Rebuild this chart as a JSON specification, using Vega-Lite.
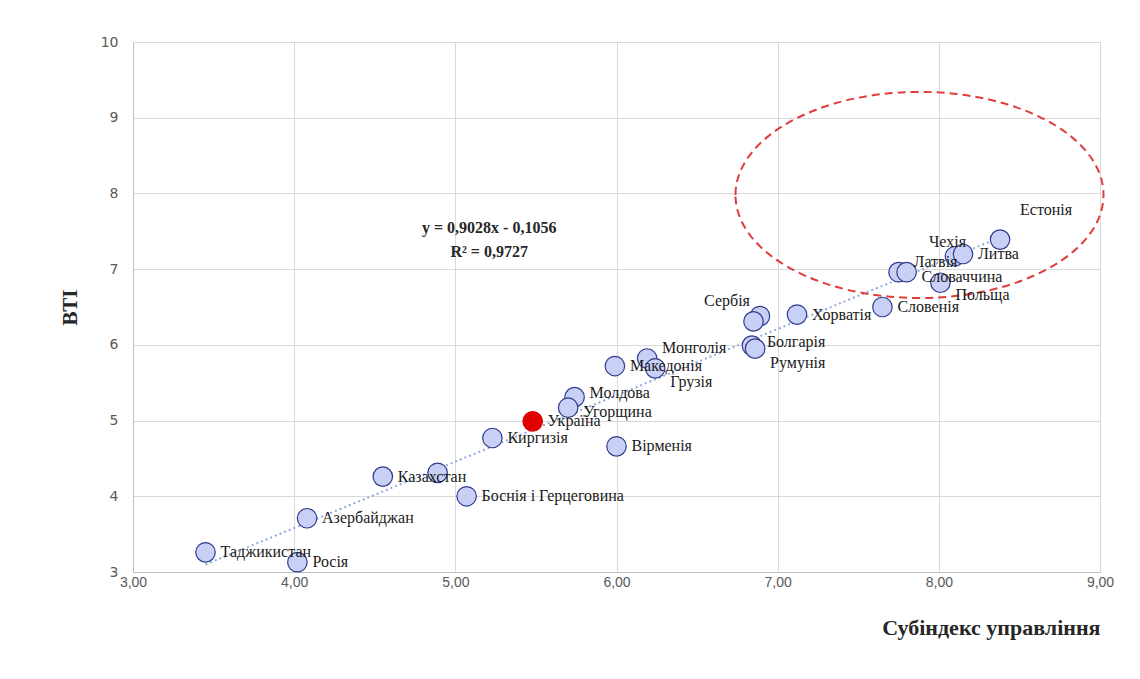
{
  "$schema": "https://vega.github.io/schema/vega-lite/v6.json",
  "width": 967,
  "height": 530,
  "autosize": {"type": "none"},
  "padding": {"left": 133, "top": 42, "right": 40, "bottom": 107},
  "background": "white",
  "config": {"view": {"stroke": null}},
  "datasets": {
    "countries": [
      {"country": "Естонія", "label": "Естонія", "x": 8.38, "y": 7.39},
      {"country": "Чехія", "label": "Чехія", "x": 8.10, "y": 7.17},
      {"country": "Литва", "label": "Литва", "x": 8.15, "y": 7.20},
      {"country": "Польща", "label": "Польща", "x": 8.01, "y": 6.82},
      {"country": "Латвія", "label": "Латвія", "x": 7.75, "y": 6.96},
      {"country": "Словаччина", "label": "Словаччина", "x": 7.80, "y": 6.96},
      {"country": "Словенія", "label": "Словенія", "x": 7.65, "y": 6.50},
      {"country": "Хорватія", "label": "Хорватія", "x": 7.12, "y": 6.40},
      {"country": "Сербія", "label": "Сербія", "x": 6.89, "y": 6.38},
      {"country": "Чорногорія", "label": "", "x": 6.85, "y": 6.31},
      {"country": "Болгарія", "label": "Болгарія", "x": 6.84, "y": 5.99},
      {"country": "Румунія", "label": "Румунія", "x": 6.86, "y": 5.95},
      {"country": "Монголія", "label": "Монголія", "x": 6.19, "y": 5.82},
      {"country": "Грузія", "label": "Грузія", "x": 6.24, "y": 5.69},
      {"country": "Македонія", "label": "Македонія", "x": 5.99, "y": 5.72},
      {"country": "Молдова", "label": "Молдова", "x": 5.74, "y": 5.31},
      {"country": "Угорщина", "label": "Угорщина", "x": 5.70, "y": 5.17},
      {"country": "Україна", "label": "Україна", "x": 5.48, "y": 4.99},
      {"country": "Киргизія", "label": "Киргизія", "x": 5.23, "y": 4.77},
      {"country": "Вірменія", "label": "Вірменія", "x": 6.00, "y": 4.66},
      {"country": "Казахстан", "label": "Казахстан", "x": 4.55, "y": 4.26},
      {"country": "Білорусь", "label": "", "x": 4.89, "y": 4.31},
      {"country": "Боснія і Герцеговина", "label": "Боснія і Герцеговина", "x": 5.07, "y": 4.00},
      {"country": "Азербайджан", "label": "Азербайджан", "x": 4.08, "y": 3.71},
      {"country": "Таджикистан", "label": "Таджикистан", "x": 3.45, "y": 3.26},
      {"country": "Росія", "label": "Росія", "x": 4.02, "y": 3.13}
    ]
  },
  "encoding": {
    "x": {
      "field": "x",
      "type": "quantitative",
      "scale": {"domain": [3, 9], "nice": false, "zero": false},
      "axis": {
        "title": "Субіндекс управління",
        "values": [3, 4, 5, 6, 7, 8, 9],
        "labelExpr": "replace(format(datum.value, '.2f'), '.', ',')",
        "labelFlush": false,
        "grid": true,
        "gridColor": "#d9d9d9",
        "domainColor": "#bfbfbf",
        "ticks": false,
        "labelFont": "Liberation Sans",
        "labelFontSize": 14,
        "labelColor": "#595959",
        "labelPadding": 3,
        "titleFont": "Liberation Serif",
        "titleFontSize": 22,
        "titleFontWeight": "bold",
        "titleColor": "#262626",
        "titleAnchor": "end",
        "titlePadding": 28
      }
    },
    "y": {
      "field": "y",
      "type": "quantitative",
      "scale": {"domain": [3, 10], "nice": false, "zero": false},
      "axis": {
        "title": "ВТІ",
        "values": [3, 4, 5, 6, 7, 8, 9, 10],
        "labelFlush": false,
        "grid": true,
        "gridColor": "#d9d9d9",
        "domainColor": "#bfbfbf",
        "ticks": false,
        "labelFont": "DejaVu Sans",
        "labelFontSize": 14,
        "labelColor": "#595959",
        "labelPadding": 15,
        "titleFont": "Liberation Serif",
        "titleFontSize": 21,
        "titleFontWeight": "bold",
        "titleColor": "#262626",
        "titlePadding": 20
      }
    }
  },
  "layer": [
    {
      "data": {"name": "countries"},
      "transform": [{"regression": "y", "on": "x"}],
      "mark": {"type": "line", "color": "#8EA9DB", "strokeDash": [2, 3], "strokeWidth": 2}
    },
    {
      "data": {"values": [{"x": 7.88, "y": 7.98}]},
      "mark": {
        "type": "point",
        "shape": "M -1 0 A 1 0.56 0 1 1 1 0 A 1 0.56 0 1 1 -1 0 Z",
        "size": 135424,
        "filled": false,
        "stroke": "#E03C3C",
        "strokeWidth": 2,
        "strokeDash": [8, 5],
        "opacity": 1
      }
    },
    {
      "data": {"name": "countries"},
      "mark": {"type": "point", "filled": true, "size": 380, "strokeWidth": 1.2, "opacity": 1},
      "encoding": {
        "fill": {"condition": {"test": "datum.country === 'Україна'", "value": "#E00000"}, "value": "#C9D0F5"},
        "stroke": {"condition": {"test": "datum.country === 'Україна'", "value": "#E00000"}, "value": "#2E3B8C"}
      }
    },
    {
      "data": {"name": "countries"},
      "transform": [{"filter": "indexof(['Чехія', 'Сербія', 'Естонія', 'Румунія', 'Грузія', 'Латвія', 'Польща', 'Монголія', 'Молдова', 'Угорщина', 'Словаччина', 'Болгарія'], datum.country) < 0"}],
      "mark": {"type": "text", "align": "left", "baseline": "middle", "dx": 15, "font": "Liberation Serif", "fontSize": 16, "color": "#1a1a1a"},
      "encoding": {"text": {"field": "label"}}
    },
    {
      "data": {"name": "countries"},
      "transform": [{"filter": "datum.country === 'Чехія'"}],
      "mark": {"type": "text", "align": "left", "baseline": "middle", "dx": -26, "dy": -14, "font": "Liberation Serif", "fontSize": 16, "color": "#1a1a1a"},
      "encoding": {"text": {"field": "label"}}
    },
    {
      "data": {"name": "countries"},
      "transform": [{"filter": "datum.country === 'Сербія'"}],
      "mark": {"type": "text", "align": "right", "baseline": "middle", "dx": -10, "dy": -15, "font": "Liberation Serif", "fontSize": 16, "color": "#1a1a1a"},
      "encoding": {"text": {"field": "label"}}
    },
    {
      "data": {"name": "countries"},
      "transform": [{"filter": "datum.country === 'Естонія'"}],
      "mark": {"type": "text", "align": "left", "baseline": "middle", "dx": 20, "dy": -30, "font": "Liberation Serif", "fontSize": 16, "color": "#1a1a1a"},
      "encoding": {"text": {"field": "label"}}
    },
    {
      "data": {"name": "countries"},
      "transform": [{"filter": "indexof(['Румунія', 'Грузія'], datum.country) >= 0"}],
      "mark": {"type": "text", "align": "left", "baseline": "middle", "dx": 15, "dy": 14, "font": "Liberation Serif", "fontSize": 16, "color": "#1a1a1a"},
      "encoding": {"text": {"field": "label"}}
    },
    {
      "data": {"name": "countries"},
      "transform": [{"filter": "indexof(['Латвія', 'Монголія'], datum.country) >= 0"}],
      "mark": {"type": "text", "align": "left", "baseline": "middle", "dx": 15, "dy": -10, "font": "Liberation Serif", "fontSize": 16, "color": "#1a1a1a"},
      "encoding": {"text": {"field": "label"}}
    },
    {
      "data": {"name": "countries"},
      "transform": [{"filter": "indexof(['Словаччина'], datum.country) >= 0"}],
      "mark": {"type": "text", "align": "left", "baseline": "middle", "dx": 15, "dy": 5, "font": "Liberation Serif", "fontSize": 16, "color": "#1a1a1a"},
      "encoding": {"text": {"field": "label"}}
    },
    {
      "data": {"name": "countries"},
      "transform": [{"filter": "datum.country === 'Польща'"}],
      "mark": {"type": "text", "align": "left", "baseline": "middle", "dx": 15, "dy": 12, "font": "Liberation Serif", "fontSize": 16, "color": "#1a1a1a"},
      "encoding": {"text": {"field": "label"}}
    },
    {
      "data": {"name": "countries"},
      "transform": [{"filter": "indexof(['Молдова', 'Болгарія'], datum.country) >= 0"}],
      "mark": {"type": "text", "align": "left", "baseline": "middle", "dx": 15, "dy": -4, "font": "Liberation Serif", "fontSize": 16, "color": "#1a1a1a"},
      "encoding": {"text": {"field": "label"}}
    },
    {
      "data": {"name": "countries"},
      "transform": [{"filter": "datum.country === 'Угорщина'"}],
      "mark": {"type": "text", "align": "left", "baseline": "middle", "dx": 15, "dy": 4, "font": "Liberation Serif", "fontSize": 16, "color": "#1a1a1a"},
      "encoding": {"text": {"field": "label"}}
    },
    {
      "data": {"values": [
        {"x": 5.21, "y": 7.54, "t": "y = 0,9028x - 0,1056"},
        {"x": 5.21, "y": 7.23, "t": "R² = 0,9727"}
      ]},
      "mark": {"type": "text", "align": "center", "baseline": "middle", "font": "Liberation Serif", "fontSize": 16, "fontWeight": "bold", "color": "#262626"},
      "encoding": {"text": {"field": "t"}}
    }
  ]
}
